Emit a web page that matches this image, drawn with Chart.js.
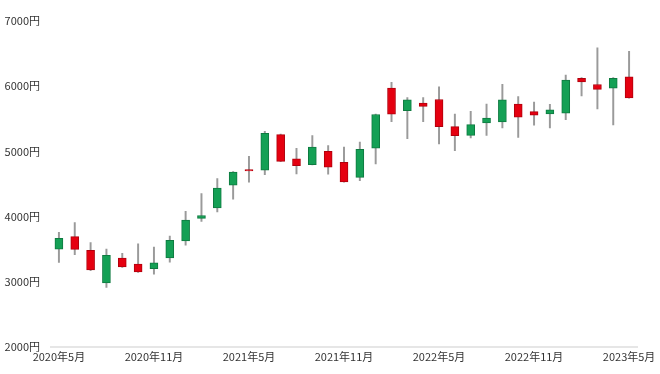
<!DOCTYPE html>
<html>
<head>
<meta charset="utf-8">
<script src="https://cdn.jsdelivr.net/npm/chart.js@4"></script>
<style>
    html, body { margin: 0; padding: 0; background: #fff; }
    #wrap { width: 660px; height: 374px; }
</style>
</head>
<body>
<div id="wrap"><canvas id="candleChart"></canvas></div>
<script>
// Months (2020年5月 .. 2023年5月)
const months = [
    '2020年5月', '2020年6月', '2020年7月', '2020年8月', '2020年9月', '2020年10月',
    '2020年11月', '2020年12月', '2021年1月', '2021年2月', '2021年3月', '2021年4月',
    '2021年5月', '2021年6月', '2021年7月', '2021年8月', '2021年9月', '2021年10月',
    '2021年11月', '2021年12月', '2022年1月', '2022年2月', '2022年3月', '2022年4月',
    '2022年5月', '2022年6月', '2022年7月', '2022年8月', '2022年9月', '2022年10月',
    '2022年11月', '2022年12月', '2023年1月', '2023年2月', '2023年3月', '2023年4月',
    '2023年5月'
];

// OHLC values
const openValues = [
    3500, 3690, 3480, 2980, 3360, 3270, 3200, 3365, 3625, 3970, 4130, 4480,
    4720, 4710, 5255, 4885, 4795, 5000, 4830, 4600, 5050, 5970, 5625, 5740,
    5795, 5380, 5245, 5435, 5450, 5725, 5610, 5575, 5585, 6120, 6025, 5970,
    6145
];
const closeValues = [
    3665, 3495, 3180, 3405, 3225, 3150, 3290, 3635, 3945, 4015, 4435, 4680,
    4700, 5275, 4845, 4780, 5065, 4755, 4530, 5030, 5565, 5570, 5790, 5690,
    5380, 5240, 5410, 5510, 5790, 5525, 5555, 5635, 6095, 6065, 5950, 6120,
    5820
];
const highValues = [
    3755, 3905, 3600, 3500, 3435, 3580, 3530, 3700, 4080, 4350, 4580, 4690,
    4925, 5305, 5265, 5045, 5240, 5090, 5065, 5140, 5570, 6060, 5825, 5825,
    5990, 5570, 5615, 5725, 6030, 5840, 5755, 5720, 6170, 6130, 6590, 6130,
    6535
];
const lowValues = [
    3295, 3415, 3170, 2910, 3220, 3140, 3115, 3300, 3560, 3925, 4070, 4265,
    4525, 4640, 4840, 4655, 4790, 4650, 4525, 4550, 4805, 5455, 5195, 5455,
    5115, 5010, 5205, 5245, 5360, 5215, 5400, 5360, 5485, 5850, 5650, 5405,
    5815
];

// y ticks
const yMin = 2000;
const yMax = 7000;
const yStep = 1000;

const upColor = '#14A055';
const upBorder = '#0E7A40';
const downColor = '#E50010';
const downBorder = '#B0000C';
const wickColor = '#9A9A9A';

const bodies = months.map((m, i) => [openValues[i], closeValues[i]]);
const wicks = months.map((m, i) => [lowValues[i], highValues[i]]);
const isUp = months.map((m, i) => closeValues[i] >= openValues[i]);

const labelFont = { family: "'Noto Sans CJK JP', 'Noto Sans', sans-serif", size: 11 };

new Chart(document.getElementById('candleChart'), {
    type: 'bar',
    data: {
        labels: months,
        datasets: [
            {
                label: 'body',
                data: bodies,
                grouped: false,
                barThickness: 8,
                minBarLength: 1,
                backgroundColor: isUp.map(u => u ? upColor : downColor),
                borderColor: isUp.map(u => u ? upBorder : downBorder),
                borderWidth: 1,
                borderSkipped: false
            },
            {
                label: 'wick',
                data: wicks,
                grouped: false,
                barThickness: 1.3,
                backgroundColor: wickColor,
                borderWidth: 0
            }
        ]
    },
    options: {
        responsive: true,
        maintainAspectRatio: false,
        animation: false,
        layout: { padding: { top: 21, right: 23, bottom: 8, left: 4 } },
        plugins: {
            legend: { display: false },
            tooltip: { enabled: false }
        },
        scales: {
            x: {
                offset: true,
                grid: { display: false, drawTicks: false },
                border: { display: true, color: '#E6E6E6', width: 2 },
                ticks: {
                    autoSkip: false,
                    maxRotation: 0,
                    padding: 3,
                    color: '#333',
                    font: labelFont,
                    callback: function (val, idx) {
                        return idx % 6 === 0 ? months[idx] : '';
                    }
                }
            },
            y: {
                min: yMin,
                max: yMax,
                afterFit: scale => { scale.width = 47; },
                grid: { display: false, drawTicks: false },
                border: { display: false },
                ticks: {
                    stepSize: yStep,
                    padding: 11,
                    color: '#333',
                    font: labelFont,
                    callback: v => v + '円'
                }
            }
        }
    }
});
</script>
</body>
</html>
